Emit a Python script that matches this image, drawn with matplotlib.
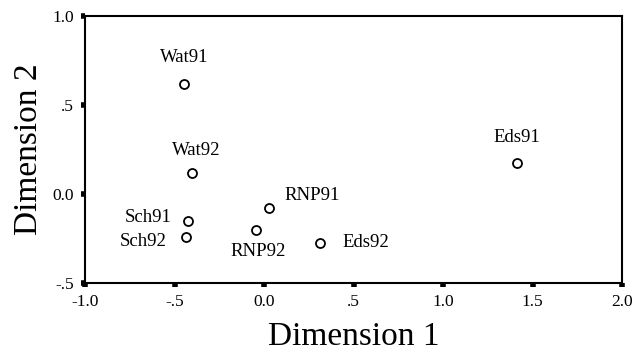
import matplotlib.pyplot as plt

# MDS stimulus coordinates
labels = ["Wat91", "Wat92", "Sch91", "Sch92", "RNP91", "RNP92", "Eds92", "Eds91"]
dim1 = [-0.447, -0.402, -0.425, -0.436, 0.028, -0.045, 0.313, 1.413]
dim2 = [0.618, 0.118, -0.152, -0.242, -0.079, -0.202, -0.275, 0.174]

xticks = [-1.0, -0.5, 0.0, 0.5, 1.0, 1.5, 2.0]
xticklabels = ["-1.0", "-.5", "0.0", ".5", "1.0", "1.5", "2.0"]
yticks = [-0.5, 0.0, 0.5, 1.0]
yticklabels = ["-.5", "0.0", ".5", "1.0"]

# label offsets in pixels (dx, dy, ha)
offsets = {
    "Wat91": (0, 26, "center"),
    "Wat92": (4, 22, "center"),
    "Sch91": (-16, 4, "right"),
    "Sch92": (-19, -4, "right"),
    "RNP91": (15, 13, "left"),
    "RNP92": (2, -22, "center"),
    "Eds92": (22, 0, "left"),
    "Eds91": (0, 26, "center"),
}

plt.rcParams["font.family"] = ["Liberation Serif", "DejaVu Serif"]

fig = plt.figure(figsize=(6.32, 3.59), dpi=100)
ax = fig.add_axes([85 / 632, 1 - 283 / 359, (622 - 85) / 632, (283 - 16) / 359])

ax.scatter(dim1, dim2, s=42, facecolors="white", edgecolors="black", linewidths=1.3, zorder=3)

for name, x, y in zip(labels, dim1, dim2):
    dx, dy, ha = offsets[name]
    ax.annotate(name, (x, y), xytext=(dx * 0.72, dy * 0.72), textcoords="offset points",
                ha=ha, va="center", fontsize=13.5)

ax.set_xlim(-1.0, 2.0)
ax.set_ylim(-0.5, 1.0)
ax.set_xticks(xticks)
ax.set_xticklabels(xticklabels)
ax.set_yticks(yticks)
ax.set_yticklabels(yticklabels)
ax.tick_params(direction="out", length=3, width=4, labelsize=12.5, pad=5)

for sp in ax.spines.values():
    sp.set_linewidth(1.5)

ax.set_xlabel("Dimension 1", fontsize=24, labelpad=8)
ax.set_ylabel("Dimension 2", fontsize=24, labelpad=6)

fig.savefig("out.png", dpi=100)
